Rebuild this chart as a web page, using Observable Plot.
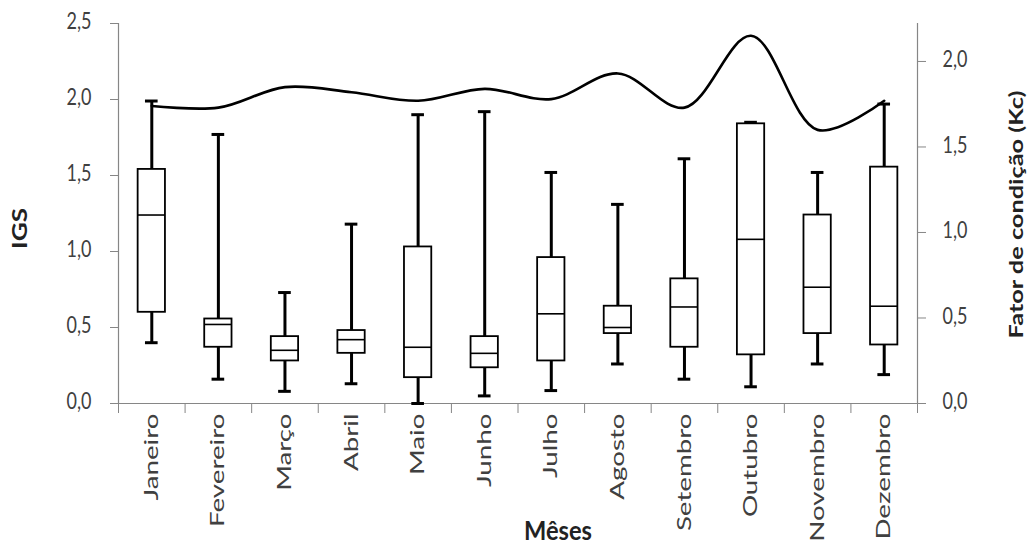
<!DOCTYPE html>
<html><head><meta charset="utf-8">
<script src="https://cdn.jsdelivr.net/npm/d3@7"></script>
<script src="https://cdn.jsdelivr.net/npm/@observablehq/plot@0.6"></script>
<style>body{margin:0;background:#fff}#chart{width:1032px;height:551px}</style>
</head><body><div id="chart"></div>
<script>
const months = ["Janeiro","Fevereiro","Março","Abril","Maio","Junho","Julho","Agosto","Setembro","Outubro","Novembro","Dezembro"];
const whiskerLow  = [0.40, 0.16, 0.08, 0.13, 0.00, 0.05, 0.085, 0.26, 0.16, 0.11, 0.26, 0.19];
const q1          = [0.60, 0.37, 0.28, 0.33, 0.17, 0.235, 0.28, 0.46, 0.37, 0.32, 0.46, 0.385];
const median      = [1.24, 0.52, 0.35, 0.42, 0.37, 0.33, 0.59, 0.50, 0.635, 1.08, 0.765, 0.64];
const q3          = [1.54, 0.556, 0.44, 0.48, 1.03, 0.44, 0.96, 0.64, 0.82, 1.84, 1.24, 1.555];
const whiskerHigh = [1.99, 1.77, 0.73, 1.18, 1.90, 1.92, 1.52, 1.31, 1.61, 1.85, 1.52, 1.97];
const kc          = [1.74, 1.73, 1.85, 1.82, 1.77, 1.84, 1.78, 1.93, 1.73, 2.15, 1.60, 1.77];
const igsTicks = [0, 0.5, 1, 1.5, 2, 2.5];
const kcTicks = [0, 0.5, 1, 1.5, 2];
const igsMax = 2.5, kcMax = 2.222;
const ratio = igsMax / kcMax;

const rows = months.map((m, i) => ({m, c: i + 0.5, lo: whiskerLow[i], q1: q1[i], med: median[i], q3: q3[i], hi: whiskerHigh[i], kc: kc[i] * ratio}));
const fmt = v => v.toFixed(1).replace(".", ",");
const FONT = "Lato, 'Open Sans', sans-serif";
const axisGray = "#868686";
const labelColor = "#404040";
const boxHalf = 0.205, capHalf = 0.095;

const chart = Plot.plot({
  width: 1032, height: 551,
  marginLeft: 118, marginRight: 115, marginTop: 23, marginBottom: 148,
  style: {fontFamily: FONT, background: "white"},
  x: {type: "linear", domain: [0, 12], axis: null},
  y: {domain: [0, igsMax], axis: null},
  marks: [
    Plot.ruleY([0], {stroke: axisGray, strokeWidth: 1.2}),
    Plot.ruleX([0, 12], {stroke: axisGray, strokeWidth: 1.2}),
    Plot.axisY({ticks: igsTicks, tickFormat: fmt, tickSize: 8, tickPadding: 19, stroke: axisGray, color: labelColor, fontSize: 18, label: null}),
    Plot.axisY({anchor: "right", ticks: kcTicks.map(k => k * ratio), tickFormat: v => fmt(Math.round(v / ratio * 10) / 10), tickSize: 8, tickPadding: 17, stroke: axisGray, color: labelColor, fontSize: 18, label: null}),
    Plot.axisX({ticks: d3.range(0, 13), tickFormat: () => "", tickSize: 10, stroke: axisGray, label: null}),
    Plot.axisX({ticks: rows.map(d => d.c), tickFormat: v => months[Math.floor(v)], tickSize: 0, tickPadding: 10, tickRotate: -90, color: labelColor, fontSize: 19, label: null}),
    Plot.ruleX(rows, {x: "c", y1: "lo", y2: "hi", stroke: "black", strokeWidth: 3}),
    Plot.ruleY(rows, {y: "lo", x1: d => d.c - capHalf, x2: d => d.c + capHalf, stroke: "black", strokeWidth: 3}),
    Plot.ruleY(rows, {y: "hi", x1: d => d.c - capHalf, x2: d => d.c + capHalf, stroke: "black", strokeWidth: 3}),
    Plot.rect(rows, {x1: d => d.c - boxHalf, x2: d => d.c + boxHalf, y1: "q1", y2: "q3", fill: "white", stroke: "black", strokeWidth: 1.8}),
    Plot.ruleY(rows, {y: "med", x1: d => d.c - boxHalf, x2: d => d.c + boxHalf, stroke: "black", strokeWidth: 1.6}),
    Plot.line(rows, {x: "c", y: "kc", curve: "catmull-rom", stroke: "black", strokeWidth: 2.6}),
    Plot.text(["IGS"], {frameAnchor: "left", textAnchor: "middle", dx: -98, dy: 15, rotate: -90, fontWeight: "bold", fontSize: 20, fill: "#222"}),
    Plot.text(["Fator de condição (Kc)"], {frameAnchor: "right", textAnchor: "middle", dx: 100, dy: 1, rotate: -90, fontWeight: "bold", fontSize: 18, fill: "#222"}),
    Plot.text(["Mêses"], {frameAnchor: "bottom", textAnchor: "middle", dx: 40, dy: 136, fontWeight: "bold", fontSize: 21, fill: "#222"})
  ]
});
document.getElementById("chart").appendChild(chart);

function toPx(v, el) {
  if (v == null) return 0;
  if (String(v).endsWith("em")) return parseFloat(v) * parseFloat(getComputedStyle(el).fontSize);
  return parseFloat(v) || 0;
}
function stretch(nodes, sx, sy) {
  nodes.forEach(el => {
    let t = el.getAttribute("transform") || "";
    const x = el.getAttribute("x"), y = el.getAttribute("y");
    if (x != null || y != null) {
      t = t + ` translate(${toPx(x, el)},${toPx(y, el)})`;
      el.removeAttribute("x"); el.removeAttribute("y");
    }
    el.setAttribute("transform", t + ` scale(${sx},${sy})`);
  });
}
const allTexts = Array.from(chart.querySelectorAll("text"));
const byText = s => allTexts.filter(t => t.textContent === s);
const yLabels = allTexts.filter(t => /^\d,\d$/.test(t.textContent));
stretch(yLabels, 1, 1.25);
const monthTexts = allTexts.filter(t => months.includes(t.textContent));
const jan = monthTexts.find(t => t.textContent === "Janeiro");
const janLen = jan ? jan.getComputedTextLength() : 65;
stretch(monthTexts, 87 / janLen, 1);
const igsT = byText("IGS");
if (igsT.length) stretch(igsT, 41 / igsT[0].getComputedTextLength(), 1);
const kcT = byText("Fator de condição (Kc)");
if (kcT.length) stretch(kcT, 248 / kcT[0].getComputedTextLength(), 1);
const mT = byText("Mêses");
if (mT.length) stretch(mT, 68 / mT[0].getComputedTextLength(), 1.3);
</script>
</body></html>
